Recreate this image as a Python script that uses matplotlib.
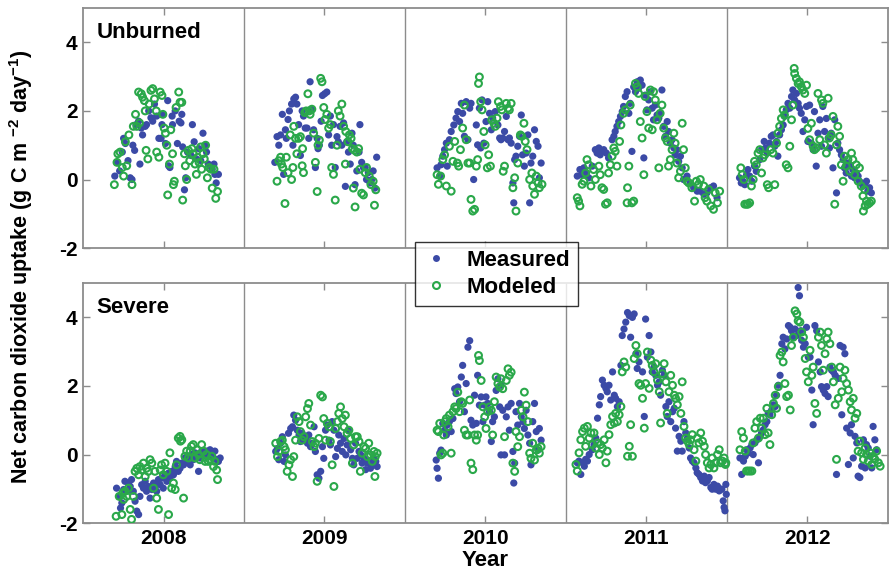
import matplotlib.pyplot as plt

plt.rcParams['font.family'] = ['Liberation Sans', 'DejaVu Sans']
plt.rcParams['font.weight'] = 'bold'
plt.rcParams['mathtext.fontset'] = 'custom'
plt.rcParams['mathtext.bf'] = 'Liberation Sans:bold'
plt.rcParams['mathtext.rm'] = 'Liberation Sans:bold'
plt.rcParams['mathtext.default'] = 'bf'
plt.rcParams['axes.unicode_minus'] = False

years = [2008, 2009, 2010, 2011, 2012]
year_labels = ['2008', '2009', '2010', '2011', '2012']
y_ticks = [-2, 0, 2, 4]

# (day of year, g C m-2 day-1)
# --- Unburned, measured
unb_meas_2008 = [(72, 0.1), (77, 0.5), (83, 0.25), (89, 0.8), (92, 1.2), (96, 1.05), (102, 0.55), (107, 0.05), (111, 0.0), (113, 1.0),
                 (117, 0.85), (120, 1.6), (126, 1.7), (129, 0.45), (132, 1.5), (135, 1.3), (141, 1.55), (144, 1.6), (149, 2.0), (154, 1.8),
                 (158, 1.7), (162, 2.2), (167, 1.85), (172, 1.2), (177, 1.2), (179, 1.6), (182, 1.9), (187, 1.05), (192, 2.3), (194, 0.4),
                 (197, 0.35), (202, 1.85), (203, 1.6), (209, 2.0), (214, 1.05), (218, 1.7), (222, 1.65), (224, 1.9), (226, 0.95), (230, -0.3),
                 (233, 0.05), (237, 0.8), (245, 0.7), (248, 1.6), (252, 1.1), (257, 0.6), (263, 0.9), (267, 0.55), (272, 1.35), (277, 1.0),
                 (280, 0.8), (284, 0.45), (287, 0.4), (293, 0.3), (299, 0.15), (302, -0.1), (307, 0.15), (297, 0.45)]
unb_meas_2009 = [(70, 0.5), (75, 1.25), (79, 1.0), (83, 1.3), (87, 1.9), (90, 0.15), (94, 1.45), (96, 1.2), (100, 1.75), (103, 2.0),
                 (108, 2.2), (111, 1.0), (113, 2.35), (117, 2.4), (120, 2.2), (124, 1.6), (128, 0.7), (132, 2.0), (135, 1.85), (139, 1.5),
                 (143, 1.5), (147, 1.2), (150, 2.85), (154, 2.05), (158, 1.45), (162, 0.35), (166, 1.2), (168, 0.9), (171, 1.0), (175, 1.7),
                 (178, 2.45), (183, 2.5), (188, 2.55), (192, 1.3), (196, 1.85), (199, 1.0), (203, 1.6), (207, 0.35), (211, 1.25), (214, 1.1),
                 (218, 1.55), (222, 1.0), (226, 1.65), (230, -0.2), (233, 1.1), (237, 0.8), (241, 0.45), (245, 1.35), (248, 1.0), (252, -0.15),
                 (256, 0.25), (261, 0.8), (263, 1.6), (267, 0.5), (271, 0.35), (275, 0.35), (278, 0.0), (282, 0.2), (286, -0.1), (290, 0.0),
                 (293, 0.25), (297, -0.25), (301, 0.65)]
unb_meas_2010 = [(73, 0.34), (79, 0.10), (82, 0.43), (86, 0.68), (90, 0.87), (94, 1.06), (96, 0.39), (101, 1.16), (105, 1.40), (111, 1.59),
                 (116, 1.79), (120, 1.98), (124, 1.69), (128, 2.22), (131, 1.93), (135, 1.26), (139, 2.27), (143, 1.16), (147, 2.08), (150, 2.22),
                 (156, 0.0), (162, 1.59), (165, 1.01), (169, 2.08), (172, 0.92), (175, 2.32), (179, 1.06), (184, 1.69), (188, 2.27), (192, 1.93),
                 (196, 1.45), (199, 1.79), (205, 1.98), (211, 1.59), (215, 1.21), (218, 1.16), (222, 1.21), (226, 1.40), (230, 1.84), (234, 1.16),
                 (237, 1.21), (241, 1.06), (245, -0.1), (247, -0.68), (249, 0.58), (252, 0.68), (256, 0.97), (260, 1.26), (264, 1.88), (267, 0.72),
                 (271, 0.39), (275, 0.77), (279, 1.30), (283, -0.68), (286, 0.48), (290, 0.68), (294, 1.45), (298, 1.11), (302, 0.97), (305, 0.05),
                 (309, 0.48)]
unb_meas_2011 = [(26, 0.10), (32, 0.29), (37, 0.14), (41, 0.34), (47, 0.19), (52, 0.05), (60, 0.39), (67, 0.87), (71, 0.77), (75, 0.92),
                 (78, 0.72), (82, 0.82), (86, 0.87), (92, 0.77), (97, 0.63), (105, 1.16), (109, 1.26), (112, 1.40), (116, 1.55), (120, 1.69),
                 (124, 1.84), (128, 1.98), (131, 2.13), (135, 2.42), (139, 2.56), (143, 1.93), (146, 2.22), (150, 0.82), (154, 2.70), (158, 2.56),
                 (162, 2.85), (165, 2.66), (169, 2.90), (173, 2.75), (177, 0.63), (180, 2.46), (184, 2.03), (188, 2.32), (192, 2.56), (196, 2.08),
                 (199, 1.74), (203, 2.17), (207, 1.88), (211, 1.79), (214, 1.93), (218, 2.61), (222, 1.55), (226, 1.26), (230, 1.69), (233, 1.40),
                 (237, 1.06), (241, 1.16), (245, 0.92), (248, 0.72), (252, 0.87), (256, 0.53), (260, 0.68), (264, 0.34), (267, 0.0), (275, 0.10),
                 (282, -0.1), (290, -0.24), (298, -0.34), (305, -0.34), (313, -0.43), (320, -0.39), (328, -0.24), (335, -0.19), (343, -0.53)]
unb_meas_2012 = [(29, 0.05), (33, -0.1), (37, -0.05), (41, -0.15), (45, 0.14), (48, 0.29), (52, 0.10), (57, -0.05), (63, 0.39), (67, 0.24),
                 (75, 0.58), (79, 0.87), (85, 1.11), (88, 0.92), (92, 0.77), (97, 1.06), (101, 1.26), (105, 1.30), (109, 0.97), (113, 1.11),
                 (116, 0.68), (120, 1.30), (124, 1.45), (128, 1.59), (131, 1.84), (135, 2.03), (139, 2.22), (143, 2.08), (147, 2.42), (150, 2.61),
                 (154, 2.32), (158, 2.51), (162, 2.22), (165, 2.08), (169, 1.93), (173, 1.40), (177, 1.74), (181, 2.13), (184, 1.11), (188, 2.17),
                 (192, 1.06), (196, 0.87), (199, 1.98), (203, 0.39), (207, 1.35), (211, 1.74), (215, 0.97), (218, 2.13), (222, 1.40), (226, 1.78),
                 (230, 1.21), (233, 0.92), (237, 1.35), (241, 0.34), (245, 1.74), (249, -0.39), (252, 1.06), (256, 0.87), (260, 0.72), (264, 0.58),
                 (267, 0.34), (271, 0.19), (275, 0.48), (279, 0.43), (283, 0.10), (286, 0.29), (290, 0.05), (294, 0.19), (298, 0.10), (301, -0.05),
                 (305, -0.1), (309, -0.19), (313, -0.15), (317, -0.05), (320, -0.34), (324, -0.24), (328, -0.39)]

# --- Unburned, modeled
unb_mod_2008 = [(71, -0.15), (77, 0.5), (79, 0.75), (84, 0.8), (89, 0.35), (92, 0.1), (96, 1.1), (99, 0.4), (104, 1.3), (111, -0.15),
                (114, 1.55), (119, 1.9), (122, 1.55), (126, 2.55), (128, 1.65), (132, 2.5), (135, 2.4), (139, 2.3), (141, 2.0), (143, 0.85),
                (147, 0.6), (150, 2.2), (154, 2.6), (158, 2.65), (162, 2.35), (166, 2.0), (167, 0.8), (172, 0.65), (175, 2.55), (179, 2.45),
                (181, 1.9), (184, 1.5), (187, 1.35), (190, 1.0), (192, -0.45), (196, 0.45), (199, 1.45), (203, 0.75), (205, -0.15), (207, -0.05),
                (211, 2.1), (217, 2.55), (220, 2.25), (224, 2.25), (226, -0.6), (230, 0.75), (232, 0.4), (235, 0.0), (239, 0.85), (242, 0.55),
                (247, 0.9), (250, 0.75), (254, 0.45), (257, 0.15), (260, 0.65), (263, 0.5), (267, 0.95), (269, 0.3), (272, 0.75), (275, 0.6),
                (278, 1.0), (282, 0.05), (286, 0.35), (290, 0.3), (293, -0.25), (297, 0.3), (301, -0.55), (305, -0.35)]
unb_mod_2009 = [(75, -0.05), (79, 0.55), (83, 0.65), (85, 0.45), (88, 0.35), (93, -0.7), (96, 0.65), (100, 0.2), (105, 1.3), (108, 0.0),
                (111, 0.35), (113, 1.55), (117, 1.2), (120, 0.75), (124, 1.2), (128, 1.25), (132, 0.4), (133, 0.9), (135, 0.2), (138, 1.95),
                (141, 2.0), (145, 2.5), (148, 2.0), (150, 1.9), (154, 2.05), (158, 1.35), (162, 0.5), (166, -0.35), (168, 1.0), (171, 1.15),
                (174, 2.95), (177, 2.85), (181, 2.1), (184, 1.75), (188, 1.9), (192, 1.5), (196, 1.6), (199, 0.35), (203, 0.15), (207, -0.6),
                (211, 1.0), (214, 2.0), (218, 1.85), (222, 2.2), (226, 1.55), (230, 0.45), (231, 1.4), (236, 1.1), (239, 1.3), (243, 1.2),
                (246, 0.9), (248, -0.25), (251, 0.85), (252, -0.8), (256, 0.8), (260, 0.9), (263, 0.3), (267, -0.4), (271, -0.45), (275, 0.2),
                (278, 0.35), (284, 0.1), (288, -0.15), (293, -0.05), (296, -0.75), (299, -0.3)]
unb_mod_2010 = [(73, 0.14), (76, -0.14), (81, 0.10), (86, 0.58), (90, 0.72), (94, -0.19), (101, 0.97), (105, -0.34), (109, 0.53), (113, 1.11),
                (119, 0.48), (122, 0.39), (126, 0.87), (131, 1.50), (135, 2.17), (139, 1.16), (143, 0.48), (147, 0.48), (150, -0.58), (154, -0.92),
                (158, -0.87), (162, 0.39), (165, 0.58), (167, 2.80), (169, 2.99), (172, 2.27), (175, 2.03), (179, 1.40), (182, 1.01), (187, 0.34),
                (190, 0.72), (194, 0.39), (197, 1.74), (202, 1.64), (205, 1.55), (209, 1.79), (212, 2.27), (217, 2.13), (220, 2.03), (223, 0.24),
                (226, 0.39), (230, 2.22), (234, 2.08), (237, 2.03), (241, 2.22), (245, -0.24), (249, 0.05), (252, -0.92), (256, 0.48), (262, 1.30),
                (265, 1.26), (270, 1.64), (273, 1.11), (277, 0.87), (283, 0.0), (288, 0.19), (290, -0.19), (294, -0.43), (298, 0.10), (302, -0.1),
                (305, -0.24), (311, -0.14)]
unb_mod_2011 = [(26, -0.53), (29, -0.63), (32, -0.77), (37, -0.14), (41, -0.05), (45, 0.19), (48, 0.58), (52, 0.43), (57, -0.19), (63, 0.29),
                (67, 0.0), (75, 0.39), (78, 0.14), (82, -0.24), (86, -0.29), (90, -0.72), (94, -0.68), (97, 0.19), (101, 0.43), (105, 0.68),
                (109, 0.92), (112, 0.82), (116, 0.39), (122, 1.11), (125, 1.59), (131, 1.93), (135, 2.03), (139, -0.68), (140, -0.24), (143, 0.39),
                (146, 2.17), (150, -0.68), (154, -0.63), (158, 2.80), (162, 2.70), (165, 2.51), (169, 1.69), (173, 1.21), (177, 0.14), (180, 2.42),
                (184, 1.98), (188, 1.50), (192, 2.61), (196, 1.45), (199, 2.56), (203, 2.32), (207, 1.74), (211, 0.34), (214, 1.93), (218, 2.17),
                (222, 1.50), (226, 1.21), (230, 1.11), (233, 0.39), (237, 0.58), (241, 0.87), (245, 1.35), (248, 1.06), (252, 0.48), (256, 0.05),
                (260, 0.24), (264, 1.64), (267, 0.87), (271, 0.34), (275, -0.05), (279, -0.1), (286, -0.24), (292, -0.63), (296, -0.05), (301, -0.14),
                (305, 0.0), (313, -0.19), (316, -0.53), (320, -0.63), (324, -0.29), (329, -0.77), (335, -0.87), (339, -0.39), (344, -0.68), (349, -0.34)]
unb_mod_2012 = [(32, 0.34), (35, 0.14), (39, 0.0), (41, -0.72), (45, -0.72), (48, -0.72), (52, -0.68), (56, -0.19), (60, 0.0), (63, 0.53),
                (67, 0.43), (71, 0.77), (75, 0.87), (79, 0.19), (82, 0.63), (86, 0.72), (92, -0.15), (95, -0.24), (100, 0.87), (105, 0.77),
                (109, -0.15), (113, 1.06), (116, 1.35), (120, 1.55), (124, 1.78), (128, 2.03), (131, 1.88), (135, 0.43), (139, 0.34), (143, 0.97),
                (147, 1.74), (150, 2.17), (153, 3.24), (154, 3.09), (158, 2.95), (162, 2.80), (165, 2.85), (169, 2.71), (173, 2.61), (177, 2.51),
                (181, 2.75), (184, 1.49), (188, 1.16), (192, 1.64), (196, 0.97), (199, 0.87), (203, 0.92), (207, 2.51), (211, 1.16), (215, 2.32),
                (218, 2.22), (222, 1.01), (226, 0.77), (230, 2.37), (233, 1.21), (237, 1.30), (241, 1.84), (245, -0.72), (249, 1.01), (252, 1.55),
                (256, 1.26), (260, 0.43), (264, -0.05), (267, 0.68), (271, 0.39), (275, 0.58), (279, 0.24), (283, 0.77), (286, 0.58), (290, 0.14),
                (294, 0.43), (298, -0.05), (301, 0.34), (305, -0.19), (309, -0.48), (313, -0.29), (317, -0.63), (320, -0.72), (324, -0.68), (328, -0.63),
                (310, -0.92), (314, -0.77)]

# --- Severe, measured
sev_meas_2008 = [(76, -0.98), (82, -1.22), (85, -1.56), (88, -1.41), (92, -1.02), (95, -0.78), (99, -1.07), (103, -0.83), (107, -0.93), (110, -0.73),
                 (114, -1.07), (118, -1.36), (122, -1.65), (126, -1.75), (129, -1.22), (133, -0.88), (137, -0.98), (141, -0.78), (144, -1.07), (148, -0.93),
                 (152, -1.27), (156, -1.02), (160, -0.83), (163, -0.93), (167, -1.07), (171, -0.73), (175, -0.88), (178, -0.69), (182, -0.98), (186, -0.59),
                 (190, -0.78), (194, -0.54), (197, -0.69), (201, -0.49), (205, -0.59), (209, -0.35), (212, -0.20), (216, -0.49), (220, -0.40), (224, -0.25),
                 (228, -0.30), (231, -0.10), (235, -0.20), (239, -0.05), (243, -0.30), (246, 0.0), (250, -0.15), (254, 0.05), (258, -0.05), (262, -0.49),
                 (265, -0.10), (269, 0.10), (273, -0.05), (277, 0.05), (280, 0.10), (284, -0.05), (288, 0.14), (292, 0.0), (296, -0.10), (299, 0.10),
                 (303, -0.15), (307, -0.20), (311, -0.10)]
sev_meas_2009 = [(72, 0.09), (76, 0.18), (79, -0.15), (83, 0.33), (87, 0.52), (91, -0.20), (94, -0.01), (101, 0.62), (106, 0.76), (110, 0.81),
                 (113, 1.15), (117, 1.00), (121, 0.71), (125, 0.57), (128, 0.38), (132, 0.62), (136, 0.52), (140, 0.47), (144, 0.33), (147, 0.57),
                 (151, 0.23), (155, 0.33), (159, 0.81), (162, 0.09), (166, -0.59), (170, -0.69), (174, -0.49), (178, 0.23), (181, -0.11), (185, 0.71),
                 (189, 0.86), (193, 0.42), (196, 0.28), (200, 0.96), (204, 0.71), (208, -0.06), (212, 0.18), (215, 0.57), (219, 0.33), (223, 0.09),
                 (227, 0.47), (231, -0.01), (234, 0.28), (238, 0.71), (242, 0.14), (246, -0.11), (249, -0.30), (253, 0.33), (257, -0.11), (261, 0.09),
                 (265, -0.01), (268, -0.25), (272, -0.11), (276, -0.44), (280, -0.25), (283, -0.20), (287, -0.40), (291, -0.30), (295, -0.11), (299, -0.20),
                 (302, -0.35)]
sev_meas_2010 = [(71, -0.16), (73, -0.40), (76, -0.69), (79, 0.04), (82, 0.13), (86, 0.91), (90, 0.71), (94, 0.57), (96, 0.86), (101, 0.96),
                 (105, 0.67), (109, 1.05), (113, 1.92), (116, 1.78), (120, 1.97), (124, 1.54), (128, 2.26), (131, 2.60), (135, 1.25), (139, 2.07),
                 (143, 3.13), (147, 3.32), (150, 1.00), (154, 0.86), (158, 1.73), (162, 0.91), (165, 2.31), (169, 1.44), (173, 1.68), (177, 0.96),
                 (181, 1.44), (184, 1.68), (188, 1.49), (192, 1.25), (196, 0.38), (199, 0.96), (203, 1.10), (207, 1.87), (211, 2.21), (215, 1.39),
                 (218, 2.02), (222, 1.29), (226, -0.01), (230, 1.10), (234, 1.39), (237, 0.71), (241, 1.49), (245, 0.09), (249, -0.25), (252, 1.25),
                 (256, 0.86), (260, 1.49), (264, 1.10), (268, 0.96), (271, 0.76), (275, 1.29), (279, 0.57), (283, 0.33), (286, -0.30), (290, 0.96),
                 (294, 1.49), (298, 0.67), (302, 0.13), (305, 0.76), (309, 0.42), (247, -0.83), (218, -0.01)]
sev_meas_2011 = [(34, -0.58), (26, -0.24), (30, -0.19), (38, -0.24), (42, -0.34), (45, -0.14), (49, -0.19), (53, 0.0), (60, 0.14), (64, 0.29),
                 (68, 0.48), (72, 1.06), (76, 1.45), (79, 1.69), (83, 2.17), (87, 2.02), (91, 1.93), (94, 1.83), (98, 2.02), (102, 1.59),
                 (106, 2.41), (110, 1.73), (113, 1.64), (117, 1.40), (121, 1.54), (125, 2.60), (128, 3.47), (132, 3.66), (136, 3.86), (140, 4.14),
                 (144, 4.05), (147, 3.42), (151, 4.00), (155, 4.10), (159, 2.94), (162, 2.51), (166, 2.70), (174, 2.41), (178, 1.11), (181, 3.95),
                 (185, 2.84), (189, 3.47), (193, 2.99), (196, 2.41), (200, 2.55), (204, 2.31), (208, 2.02), (212, 2.12), (215, 1.73), (219, 2.46),
                 (223, 2.31), (227, 1.40), (230, 1.11), (234, 1.54), (238, 0.96), (242, 1.25), (246, 1.35), (249, 0.77), (253, 0.10), (257, 0.53),
                 (261, 0.39), (264, 0.10), (268, 0.96), (272, 0.63), (276, 0.48), (280, 0.19), (283, -0.10), (287, -0.19), (291, -0.24), (295, -0.39),
                 (298, -0.53), (302, -0.58), (306, -0.67), (310, -0.77), (314, -0.63), (317, -0.82), (321, -0.77), (325, -0.67), (329, -0.96), (332, -1.01),
                 (336, -0.87), (340, -1.01), (344, -0.92), (348, -1.06), (351, -1.01), (354, -1.01), (357, -1.35), (359, -1.54), (361, -1.64), (363, -0.87),
                 (364, -1.16)]
sev_meas_2012 = [(30, -0.10), (34, -0.58), (38, -0.19), (42, -0.05), (45, 0.14), (49, 0.05), (53, 0.19), (57, 0.29), (60, 0.0), (64, 0.34),
                 (68, 0.43), (72, -0.24), (76, 0.53), (79, 0.63), (83, 0.72), (87, 0.87), (91, 0.96), (94, 1.20), (98, 1.16), (102, 1.30),
                 (106, 1.45), (110, 1.40), (113, 1.73), (117, 2.02), (121, 2.31), (125, 3.23), (128, 3.42), (132, 3.08), (136, 3.37), (140, 3.76),
                 (144, 3.71), (147, 3.61), (151, 3.42), (155, 3.66), (159, 3.47), (162, 4.87), (165, 4.63), (168, 3.61), (170, 3.33), (174, 3.13),
                 (178, 3.23), (181, 3.71), (185, 2.84), (189, 2.84), (193, 1.88), (196, 0.87), (200, 3.76), (204, 3.61), (208, 2.70), (212, 2.41),
                 (215, 1.98), (219, 1.88), (223, 1.78), (227, 1.98), (230, 1.69), (234, 2.55), (238, 2.46), (242, 2.41), (246, 2.31), (249, -0.58),
                 (253, 2.22), (257, 3.18), (261, 1.16), (264, 3.13), (268, 2.94), (272, 0.77), (276, -0.29), (280, 0.63), (283, 0.87), (287, -0.10),
                 (291, 0.53), (295, 0.34), (298, -0.63), (302, -0.67), (306, -0.34), (310, 0.43), (314, -0.39), (317, 0.29), (321, 0.19), (325, -0.05),
                 (329, -0.39), (332, 0.82), (336, 0.43), (340, 0.14)]

# --- Severe, modeled
sev_mod_2008 = [(75, -1.80), (82, -1.22), (88, -1.75), (90, -1.12), (92, -1.31), (95, -1.07), (99, -1.22), (103, -0.98), (107, -1.60), (110, -1.89),
                (114, -1.22), (118, -0.49), (122, -0.40), (126, -0.59), (129, -0.35), (133, -0.45), (137, -0.25), (141, -0.64), (144, -0.40), (148, -0.49),
                (152, -0.15), (156, -0.25), (160, -0.98), (163, -0.49), (167, -1.27), (171, -1.60), (175, -0.45), (178, -0.30), (182, -0.59), (186, -0.25),
                (190, -0.49), (194, -1.75), (197, 0.05), (201, -0.98), (205, -0.83), (209, -1.02), (212, -0.30), (216, 0.48), (220, 0.53), (221, 0.39),
                (224, 0.43), (228, -1.27), (231, -0.05), (235, 0.10), (239, -0.10), (243, 0.10), (246, 0.24), (250, 0.29), (254, -0.10), (258, 0.14),
                (262, 0.0), (265, -0.15), (269, 0.29), (273, 0.10), (277, -0.20), (280, 0.0), (284, -0.20), (288, -0.15), (292, -0.05), (296, -0.35),
                (299, -0.20), (303, -0.45), (305, -0.73)]
sev_mod_2009 = [(72, 0.33), (76, -0.06), (79, 0.09), (83, 0.38), (87, 0.42), (91, 0.23), (94, 0.14), (98, -0.49), (102, -0.30), (106, -0.15),
                (110, -0.64), (113, -0.06), (117, 0.42), (121, 1.10), (125, 0.96), (128, 0.67), (132, 0.42), (136, 0.52), (140, 1.10), (144, 1.34),
                (147, 1.49), (151, 0.86), (155, 0.38), (159, 0.23), (162, 0.33), (166, -0.78), (170, 0.47), (174, 1.73), (178, 1.68), (181, 1.05),
                (185, 0.42), (189, 0.91), (193, 0.81), (196, 0.38), (200, -0.30), (204, -0.93), (208, 0.76), (212, 0.96), (215, 1.20), (219, 1.39),
                (223, 1.05), (227, 0.81), (230, 1.15), (234, 0.62), (238, 0.71), (242, 0.47), (246, -0.25), (249, 0.28), (253, 0.52), (257, 0.52),
                (261, 0.38), (264, -0.49), (268, 0.04), (272, 0.23), (276, 0.18), (280, -0.06), (283, 0.33), (287, -0.01), (291, -0.20), (295, 0.09),
                (298, -0.06), (302, 0.04), (297, -0.64)]
sev_mod_2010 = [(73, 0.71), (76, 0.67), (79, 0.91), (82, -0.01), (86, 0.04), (88, 0.57), (91, 0.96), (94, 1.05), (98, 0.81), (101, 1.15),
                (105, 0.04), (109, 1.25), (113, 1.39), (116, 1.34), (120, 1.82), (124, 1.25), (128, 1.54), (131, 1.49), (135, 0.71), (139, 0.57),
                (143, 0.57), (147, 1.59), (150, -0.25), (154, -0.44), (158, 0.57), (162, 0.42), (165, 0.57), (167, 2.89), (169, 2.74), (173, 2.16),
                (177, 1.39), (181, 1.10), (184, 0.76), (188, 1.25), (192, 1.39), (196, 1.29), (199, 0.57), (203, 1.54), (207, 2.26), (211, 2.07),
                (215, 1.97), (218, 2.21), (222, 1.92), (226, 0.52), (230, 2.16), (234, 2.50), (237, 2.31), (241, 2.40), (245, -0.25), (249, -0.49),
                (252, 0.67), (256, 0.23), (260, 0.52), (264, 1.29), (268, 1.10), (271, 1.82), (275, 1.44), (279, 0.96), (283, 0.04), (286, -0.11),
                (290, 0.33), (294, -0.16), (298, 0.13), (302, 0.18), (305, 0.04), (309, 0.23)]
sev_mod_2011 = [(23, -0.29), (26, -0.48), (30, 0.05), (34, 0.43), (38, 0.67), (42, 0.77), (45, 0.24), (49, 0.82), (53, 0.48), (57, 0.63),
                (60, 0.29), (64, 0.63), (68, 0.19), (72, 0.34), (76, 0.0), (79, 0.29), (83, 0.19), (87, 0.43), (91, -0.24), (94, 0.10),
                (98, 0.58), (102, 0.87), (106, 1.11), (110, 0.92), (113, 1.20), (117, 0.96), (121, 1.16), (125, 1.40), (128, 2.41), (132, 2.70),
                (136, 2.55), (140, -0.05), (144, 0.24), (147, 0.87), (151, -0.05), (155, 2.80), (159, 3.18), (162, 2.94), (166, 2.07), (170, 2.02),
                (174, 1.64), (178, 0.77), (181, 2.07), (185, 2.99), (189, 1.93), (193, 2.75), (196, 2.60), (200, 2.41), (204, 2.65), (208, 2.17),
                (212, 1.83), (215, 0.92), (219, 2.36), (223, 2.65), (227, 2.12), (230, 1.20), (234, 1.83), (238, 2.31), (242, 2.02), (246, 1.73),
                (249, 1.64), (253, 1.45), (257, 1.69), (261, 1.20), (264, 2.12), (268, 0.82), (272, 0.48), (276, 0.39), (280, 0.29), (283, 0.43),
                (287, 0.58), (291, 0.14), (295, -0.19), (298, 0.48), (302, 0.34), (306, 0.63), (310, 0.39), (314, 0.24), (317, 0.0), (321, -0.24),
                (325, -0.39), (329, -0.29), (332, -0.10), (336, -0.39), (340, -0.24), (344, 0.0), (348, 0.14), (351, -0.24), (355, -0.19), (359, -0.10),
                (362, -0.29), (363, -0.24)]
sev_mod_2012 = [(30, 0.14), (34, 0.67), (38, 0.48), (42, 0.10), (45, -0.48), (49, -0.48), (53, -0.48), (57, -0.48), (60, 0.34), (64, 0.77),
                (68, 0.96), (72, 0.48), (76, 1.06), (79, 0.77), (83, 1.06), (87, 0.58), (91, 1.35), (94, 0.63), (98, 0.29), (102, 1.16),
                (106, 1.49), (110, 1.73), (113, 1.35), (117, 1.98), (121, 2.89), (125, 2.99), (128, 2.70), (132, 2.07), (136, 1.69), (140, 1.73),
                (144, 1.30), (147, 3.18), (151, 3.42), (155, 4.19), (159, 4.10), (162, 3.90), (166, 3.86), (170, 3.57), (174, 3.42), (178, 2.80),
                (181, 2.41), (185, 2.12), (189, 3.04), (193, 2.31), (196, 2.55), (200, 1.49), (204, 1.20), (208, 3.42), (212, 3.57), (215, 3.18),
                (219, 2.46), (223, 2.94), (227, 3.37), (230, 3.57), (234, 3.23), (238, 2.55), (242, 2.12), (246, 1.45), (249, -0.14), (253, 1.64),
                (257, 2.55), (261, 1.83), (264, 2.22), (268, 2.46), (272, 2.07), (276, 1.88), (280, 1.54), (283, 1.30), (287, 1.64), (291, 1.06),
                (295, 1.20), (298, 0.10), (302, 0.39), (306, 0.05), (310, -0.14), (314, 0.19), (317, 0.0), (321, -0.19), (325, 0.05), (329, -0.29),
                (332, -0.05), (336, -0.14), (340, 0.10), (344, -0.24), (348, -0.34)]

unb_meas = [unb_meas_2008, unb_meas_2009, unb_meas_2010, unb_meas_2011, unb_meas_2012]
unb_mod = [unb_mod_2008, unb_mod_2009, unb_mod_2010, unb_mod_2011, unb_mod_2012]
sev_meas = [sev_meas_2008, sev_meas_2009, sev_meas_2010, sev_meas_2011, sev_meas_2012]
sev_mod = [sev_mod_2008, sev_mod_2009, sev_mod_2010, sev_mod_2011, sev_mod_2012]

blue = '#3b4aa6'
green = '#2aa84a'
frame = '#8c8c8c'


def to_x(year, pts):
    # each year occupies [year-0.5, year+0.5]
    return [year - 0.5 + d / 365.0 for d, v in pts], [v for d, v in pts]


fig = plt.figure(figsize=(8.93, 5.73), dpi=100)
ax_top = fig.add_axes([0.093, 0.567, 0.901, 0.419])
ax_bot = fig.add_axes([0.093, 0.087, 0.901, 0.419])

for ax, meas, mod, title in [(ax_top, unb_meas, unb_mod, 'Unburned'),
                             (ax_bot, sev_meas, sev_mod, 'Severe')]:
    for yr, m_pts, g_pts in zip(years, meas, mod):
        xm, ym = to_x(yr, m_pts)
        xg, yg = to_x(yr, g_pts)
        ax.scatter(xm, ym, s=27, color=blue, edgecolors='none', zorder=3)
        ax.scatter(xg, yg, s=24, facecolors='none', edgecolors=green, linewidths=1.5, zorder=3)
    for yr in years[:-1]:
        ax.axvline(yr + 0.5, color=frame, lw=1.0, zorder=1)
    ax.set_xlim(years[0] - 0.5, years[-1] + 0.5)
    ax.set_ylim(-2, 5)
    ax.set_yticks(y_ticks)
    ax.set_xticks(years)
    ax.tick_params(direction='in', top=True, right=True, length=5, width=1,
                   color=frame, labelsize=15, pad=4)
    for sp in ax.spines.values():
        sp.set_color(frame)
        sp.set_linewidth(1.3)
    ax.text(0.017, 0.94, title, transform=ax.transAxes, fontsize=16,
            fontweight='bold', va='top', ha='left')

ax_top.set_xticklabels([])
ax_bot.set_xticklabels(year_labels)
for lab in ax_top.get_yticklabels() + ax_bot.get_yticklabels() + ax_bot.get_xticklabels():
    lab.set_fontweight('bold')

ax_bot.set_xlabel('Year', fontsize=16, fontweight='bold', labelpad=2)
fig.text(0.024, 0.534, r'Net carbon dioxide uptake (g C m $^{-2}$ day$^{-1}$)',
         rotation=90, ha='center', va='center', fontsize=15.5, fontweight='bold')

h1 = plt.Line2D([], [], ls='none', marker='o', ms=5, color=blue, mec='none')
h2 = plt.Line2D([], [], ls='none', marker='o', ms=5, mfc='none', mec=green, mew=1.5)
leg = fig.legend([h1, h2], ['Measured', 'Modeled'], loc='center',
                 bbox_to_anchor=(0.556, 0.522), fontsize=16, frameon=True,
                 fancybox=False, edgecolor='black', handlelength=1.2,
                 handletextpad=0.8, borderpad=0.35, labelspacing=0.3)
leg.get_frame().set_linewidth(1.0)
for t in leg.get_texts():
    t.set_fontweight('bold')

plt.savefig('out.png', dpi=100)
